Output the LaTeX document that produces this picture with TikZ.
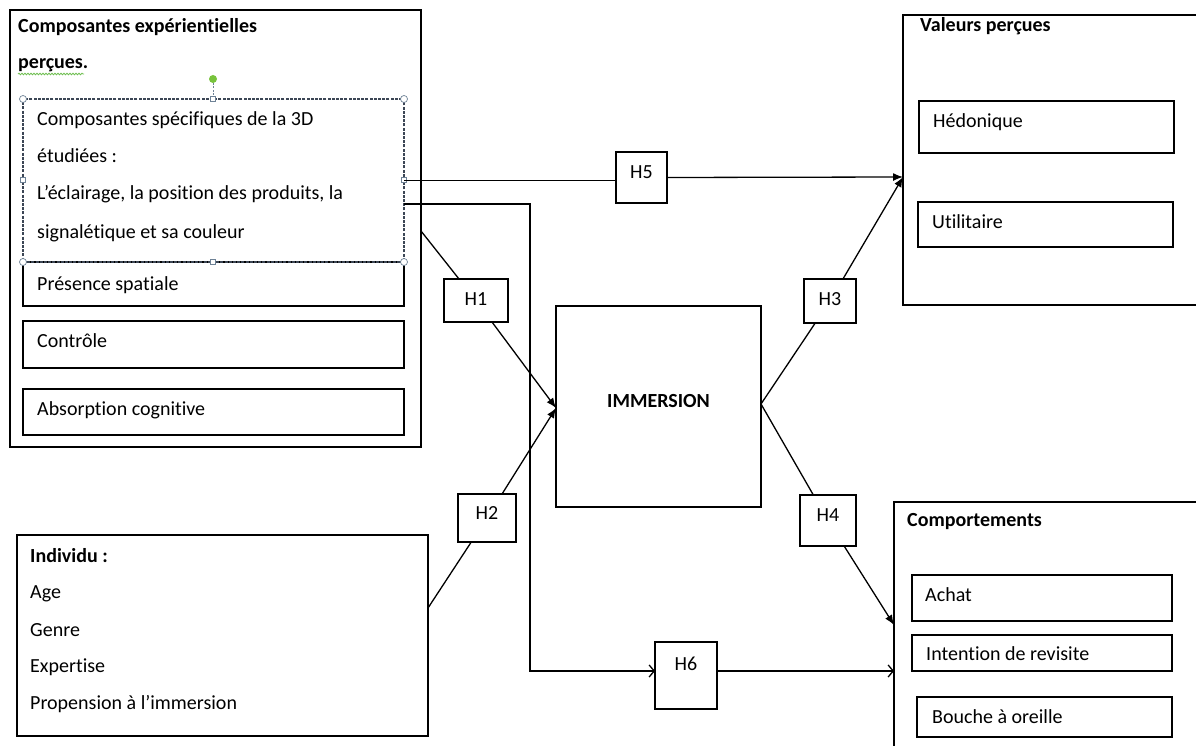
\documentclass[tikz,border=0pt]{standalone}
\usepackage{fontspec}
\setmainfont{Carlito}[Ligatures=CommonOff]
\usetikzlibrary{arrows.meta,decorations.pathmorphing}
\definecolor{handle}{RGB}{110,130,150}
\definecolor{seldash}{RGB}{60,70,85}
\definecolor{rotgreen}{RGB}{120,195,60}
\definecolor{spell}{RGB}{110,190,80}
\begin{document}
\begin{tikzpicture}[x=1pt,y=-1pt,
 box/.style={draw, line width=1.5pt, anchor=north west, inner sep=0pt, outer sep=0pt},
 hbox/.style={draw, line width=1.5pt, inner sep=0pt, outer sep=0pt, fill=white},
 txt/.style={anchor=base west, inner sep=0pt, font=\fontsize{20}{24}\selectfont},
 btxt/.style={anchor=base west, inner sep=0pt, font=\fontsize{20}{24}\selectfont\bfseries},
 hlbl/.style={anchor=base, inner sep=0pt, font=\fontsize{20}{24}\selectfont},
 conn/.style={line width=1.3pt},
 fa/.style={conn, -{Latex[length=10pt,width=8pt]}},
 oa/.style={conn, -{Straight Barb[length=5pt,width=12pt]}},
 handlec/.style={draw=handle, fill=white, line width=0.7pt},
]
\useasboundingbox (0,0) rectangle (1196,746);
\clip (0,0) rectangle (1196,746);

% ---------- left group ----------
\node[box, minimum width=411pt, minimum height=437pt] (outer) at (10,10) {};
\node[btxt] (outerT1) at (18,33) {Composantes expérientielles};
\node[btxt] (outerT2) at (18,69) {perçues.};
\draw[spell, line width=0.8pt, decorate, decoration={snake, amplitude=0.8pt, segment length=3pt}] (18,74) -- (84,74);

\node[box, minimum width=381pt, minimum height=44pt] (pres) at (23,262) {};
\node[box, minimum width=381pt, minimum height=47pt] (ctrl) at (23,321) {};
\node[box, minimum width=381pt, minimum height=46pt] (absc) at (23,389) {};
\node[txt] (presT) at (37,290) {Présence spatiale};
\node[txt] (ctrlT) at (37,347) {Contrôle};
\node[txt] (abscT) at (37,415) {Absorption cognitive};

% selected text box
\node[box, draw=seldash, line width=1.2pt, dash pattern=on 3pt off 1.2pt, minimum width=381pt, minimum height=163pt] (sel) at (23,99) {};
\node[txt] (selT1) at (37,126) {Composantes spécifiques de la 3D};
\node[txt] (selT2) at (37,163) {étudiées :};
\node[txt] (selT3) at (37,200) {L’éclairage, la position des produits, la};
\node[txt] (selT4) at (37,238) {signalétique et sa couleur};
% selection handles
\draw[handle, line width=0.7pt, dash pattern=on 2pt off 1.5pt] (213,83) -- (213,97);
\fill[rotgreen] (213,79) circle (4);
\foreach \p in {(23,99),(404,99),(23,262),(404,262)} \draw[handlec] \p circle (3.5);
\foreach \p in {(213,99),(213,262),(23,180),(404,180)} \draw[handlec] \p ++(-2.5,-2.5) rectangle ++(5,5);

% individu
\node[box, minimum width=411pt, minimum height=201pt] (indiv) at (17,535) {};
\node[btxt] (indT0) at (30,562) {Individu :};
\node[txt] (indT1) at (30,598) {Age};
\node[txt] (indT2) at (30,636) {Genre};
\node[txt] (indT3) at (30,672) {Expertise};
\node[txt] (indT4) at (30,709) {Propension à l’immersion};

% immersion
\node[box, minimum width=205pt, minimum height=201pt] (imm) at (556,306) {};
\node[hlbl, font=\fontsize{20}{24}\selectfont\bfseries] (immT) at (658.5,407.5) {IMMERSION};

% valeurs
\node[box, minimum width=340pt, minimum height=290pt] (val) at (903,15) {};
\node[btxt] (valT) at (920,32) {Valeurs perçues};
\node[box, minimum width=255pt, minimum height=52pt] (hed) at (919,101) {};
\node[txt] (hedT) at (933,128) {Hédonique};
\node[box, minimum width=255pt, minimum height=45pt] (util) at (918,202) {};
\node[txt] (utilT) at (932,228) {Utilitaire};

% comportements
\node[box, minimum width=340pt, minimum height=300pt] (comp) at (894,502) {};
\node[btxt] (compT) at (907,526) {Comportements};
\node[box, minimum width=260pt, minimum height=46pt] (achat) at (912,575) {};
\node[txt] (achatT) at (925,601) {Achat};
\node[box, minimum width=260pt, minimum height=36pt] (inten) at (912,635) {};
\node[txt] (intenT) at (926,660) {Intention de revisite};
\node[box, minimum width=255pt, minimum height=40pt] (bouche) at (917,697) {};
\node[txt] (boucheT) at (932,723) {Bouche à oreille};

% hypothesis boxes
\node[hbox, minimum width=51pt, minimum height=51pt] (h5) at (641.5,177.5) {};
\node[hbox, minimum width=64pt, minimum height=43pt] (h1) at (476,300.5) {};
\node[hbox, minimum width=52pt, minimum height=44pt] (h3) at (830,301) {};
\node[hbox, minimum width=58pt, minimum height=48pt] (h2) at (487,518) {};
\node[hbox, minimum width=56pt, minimum height=51pt] (h4) at (828,520.5) {};
\node[hbox, minimum width=62pt, minimum height=67pt] (h6) at (686,675.5) {};
\node[hlbl] (h5T) at (641.5,178.5) {H5};
\node[hlbl] (h1T) at (476,305.5) {H1};
\node[hlbl] (h3T) at (830,305.5) {H3};
\node[hlbl] (h2T) at (487,519.5) {H2};
\node[hlbl] (h4T) at (828,521.5) {H4};
\node[hlbl] (h6T) at (686,670.5) {H6};

% ---------- connectors ----------
\coordinate (vin) at (903,177);
\coordinate (cin) at (894,625);
\coordinate (h1s) at (421,231);
\coordinate (h2s) at (428,608);
\coordinate (h6s) at (404,204);
\coordinate (h6a) at (530,204);
\coordinate (h6b) at (530,671);
\coordinate (immL) at (556,408);
\coordinate (immR) at (761,404);

% H5
\draw[conn] (sel.east) -- (h5.west |- sel.east);
\draw[fa] (h5.east) -- (vin);
% H1
\draw[conn] (h1s) -- (h1);
\draw[fa] (h1) -- (immL);
% H2
\draw[conn] (h2s) -- (h2);
\draw[fa] (h2) -- (immL);
% H3
\draw[conn] (immR) -- (h3);
\draw[fa] (h3) -- (vin);
% H4
\draw[conn] (immR) -- (h4);
\draw[fa] (h4) -- (cin);
% H6
\draw[oa] (h6s) -- (h6a) -- (h6b) -- (h6.west |- h6b);
\draw[oa] (h6.east |- h6b) -- (comp.west |- h6b);
\end{tikzpicture}
\end{document}
